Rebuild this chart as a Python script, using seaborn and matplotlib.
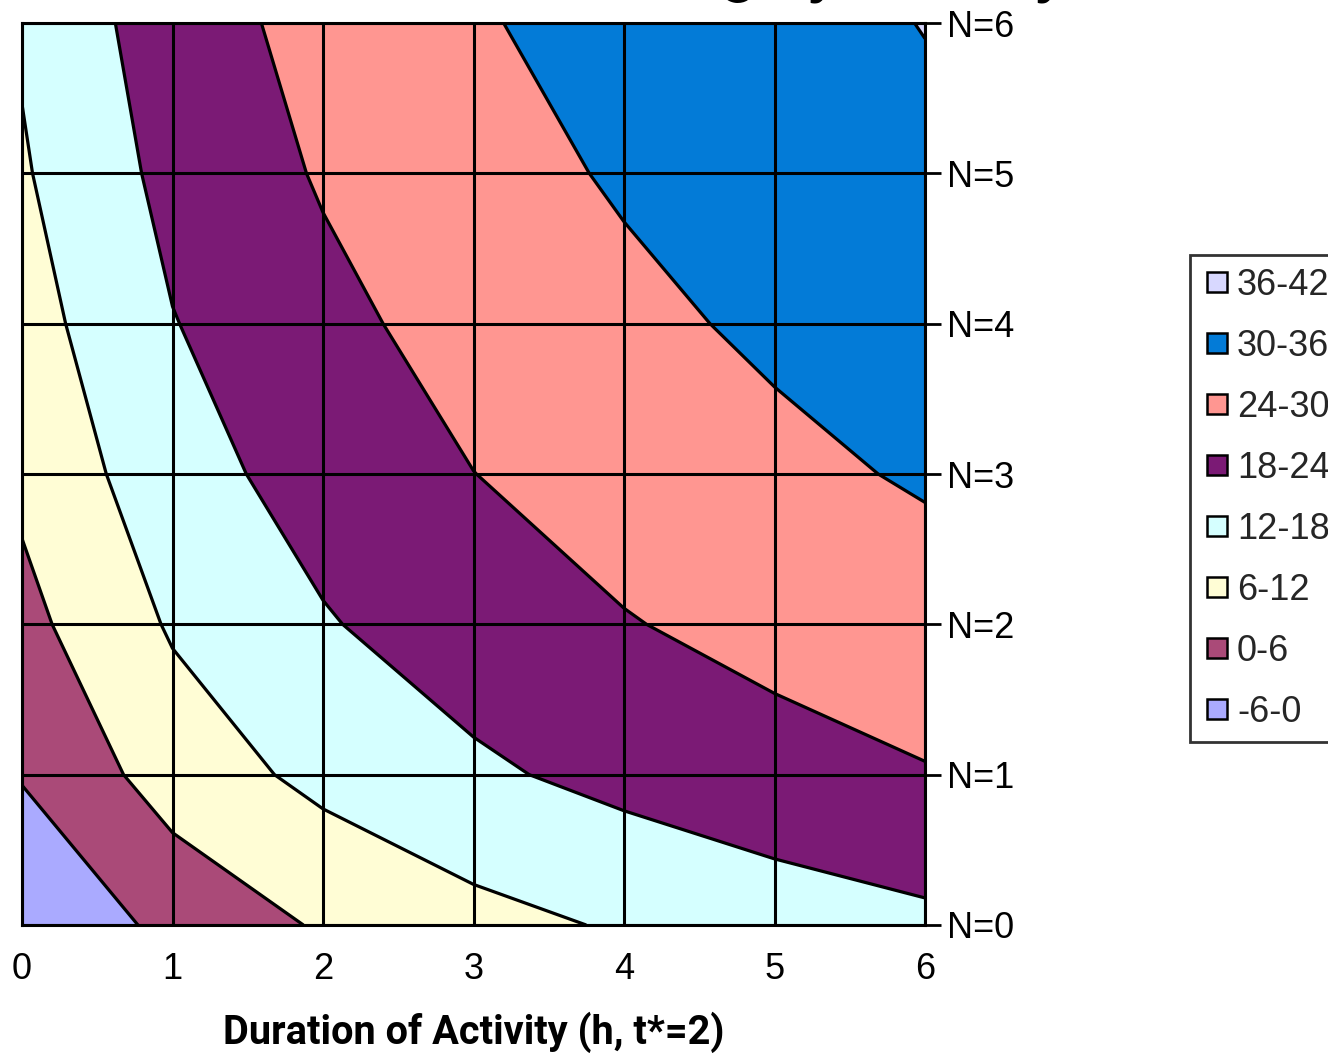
import numpy as np
import matplotlib
matplotlib.use("Agg")
import matplotlib.pyplot as plt
import seaborn as sns
from matplotlib.font_manager import FontProperties, fontManager
from matplotlib.lines import Line2D

# ---------------- data ----------------
durations = [0, 1, 2, 3, 4, 5, 6]
n_values = [0, 1, 2, 3, 4, 5, 6]
n_labels = ["N=0", "N=1", "N=2", "N=3", "N=4", "N=5", "N=6"]
x_labels = ["0", "1", "2", "3", "4", "5", "6"]

z_n0 = [-5.8, 1.73, 6.64, 10.15, 12.62, 14.86, 16.76]
z_n1 = [0.44, 8.68, 13.58, 17.0, 19.7, 22.0, 23.65]
z_n2 = [4.34, 12.63, 17.55, 21.0, 23.7, 25.7, 27.6]
z_n3 = [7.25, 15.73, 20.36, 23.95, 26.5, 28.76, 30.56]
z_n4 = [9.64, 17.78, 22.49, 26.27, 28.8, 30.9, 32.8]
z_n5 = [11.42, 19.70, 24.53, 28.1, 30.57, 32.6, 34.7]
z_n6 = [12.68, 21.26, 25.9, 29.5, 32.0, 34.0, 36.15]

levels = [-6, 0, 6, 12, 18, 24, 30, 36, 42]
band_labels = ["-6-0", "0-6", "6-12", "12-18", "18-24", "24-30", "30-36", "36-42"]
band_colors = ["#AAAAFF", "#AA4A78", "#FFFDD5", "#D5FFFF",
               "#7B1A75", "#FF9691", "#037BD7", "#D8D8FF"]

x_title = "Duration of Activity (h, t*=2)"
chart_title = "Net Benefit of Training by Activity"

# ---------------- style ----------------
sns.set_theme(style="white")
installed = {f.name for f in fontManager.ttflist}
reg_family = "Liberation Sans" if "Liberation Sans" in installed else "DejaVu Sans"
if "Liberation Sans Narrow" in installed:
    bold_family = "Liberation Sans Narrow"
elif "Roboto" in installed:
    bold_family = "Roboto"
else:
    bold_family = "DejaVu Sans"
plt.rcParams["font.family"] = [reg_family, "DejaVu Sans"]
palette = sns.color_palette(band_colors)

W, H, DPI = 1328, 1056, 100
fig = plt.figure(figsize=(W / DPI, H / DPI), dpi=DPI)
fig.patch.set_facecolor("white")

left, right, top, bottom = 22, 925, 23, 925
ax = fig.add_axes([left / W, 1 - bottom / H, (right - left) / W, (bottom - top) / H])

X, Y = np.meshgrid(durations, n_values)
Z = np.array([z_n0, z_n1, z_n2, z_n3, z_n4, z_n5, z_n6])

ax.contourf(X, Y, Z, levels=levels, colors=palette)
ax.contour(X, Y, Z, levels=levels[1:-1], colors="black", linewidths=2.3)

ax.set_xlim(0, 6)
ax.set_ylim(0, 6)
ax.set_xticks(durations)
ax.set_xticklabels(x_labels)
ax.set_yticks(n_values)
ax.set_yticklabels(n_labels)
ax.yaxis.tick_right()
ax.tick_params(axis="both", which="major", labelsize=26, length=11.5, width=2.0,
               color="black", direction="out", pad=4, labelcolor="black")
ax.tick_params(axis="x", pad=8)
ax.tick_params(axis="y", left=False, right=True, labelleft=False, labelright=True, pad=4)
ax.grid(True, color="black", linewidth=2.2)
ax.set_axisbelow(False)
for s in ax.spines.values():
    s.set_visible(True)
    s.set_color("black")
    s.set_linewidth(2.2)

# x-axis title sized to the reference width
renderer = fig.canvas.get_renderer()
def text_w(s, fp):
    w, h, d = renderer.get_text_width_height_descent(s, fp, ismath=False)
    return w

fp10 = FontProperties(family=[bold_family, "DejaVu Sans"], weight="bold", size=10)
xl_size = 10 * 503 / text_w(x_title, fp10)
xl_size = min(xl_size, 29)
ax.set_xlabel(x_title, fontsize=xl_size, fontweight="bold",
              family=[bold_family, "DejaVu Sans"], labelpad=18, color="black")

# chart title, mostly above the visible canvas (only descenders show)
ig = chart_title.rfind("g")
iy = chart_title.rfind("y")
gc = (text_w(chart_title[:ig], fp10) + text_w(chart_title[:ig + 1], fp10)) / 2
yc = (text_w(chart_title[:iy], fp10) + text_w(chart_title[:iy + 1], fp10)) / 2
t_scale = 313 / (yc - gc)
t_size = 10 * t_scale
t_left = 740 - gc * t_scale
fig.text(t_left / W, 1 + 9.0 / H, chart_title, ha="left", va="baseline",
         fontsize=t_size, fontweight="bold", family=[bold_family, "DejaVu Sans"],
         color="black")

# legend (top band first), partly cut by the right edge as in the reference
handles = [Line2D([], [], linestyle="none", marker="s", markersize=14,
                  markerfacecolor=palette[i], markeredgecolor="black",
                  markeredgewidth=1.8) for i in range(len(band_labels))][::-1]
leg = fig.legend(handles, band_labels[::-1], loc="upper left",
                 bbox_to_anchor=(1190 / W, 1 - 255 / H), bbox_transform=fig.transFigure,
                 fontsize=26, frameon=True, fancybox=False, shadow=False,
                 labelspacing=0.72, handletextpad=0.15, handlelength=0.8,
                 borderpad=0.35, borderaxespad=0.0)
leg.get_frame().set_edgecolor("black")
leg.get_frame().set_linewidth(2.0)

fig.savefig("out.png", dpi=DPI)
